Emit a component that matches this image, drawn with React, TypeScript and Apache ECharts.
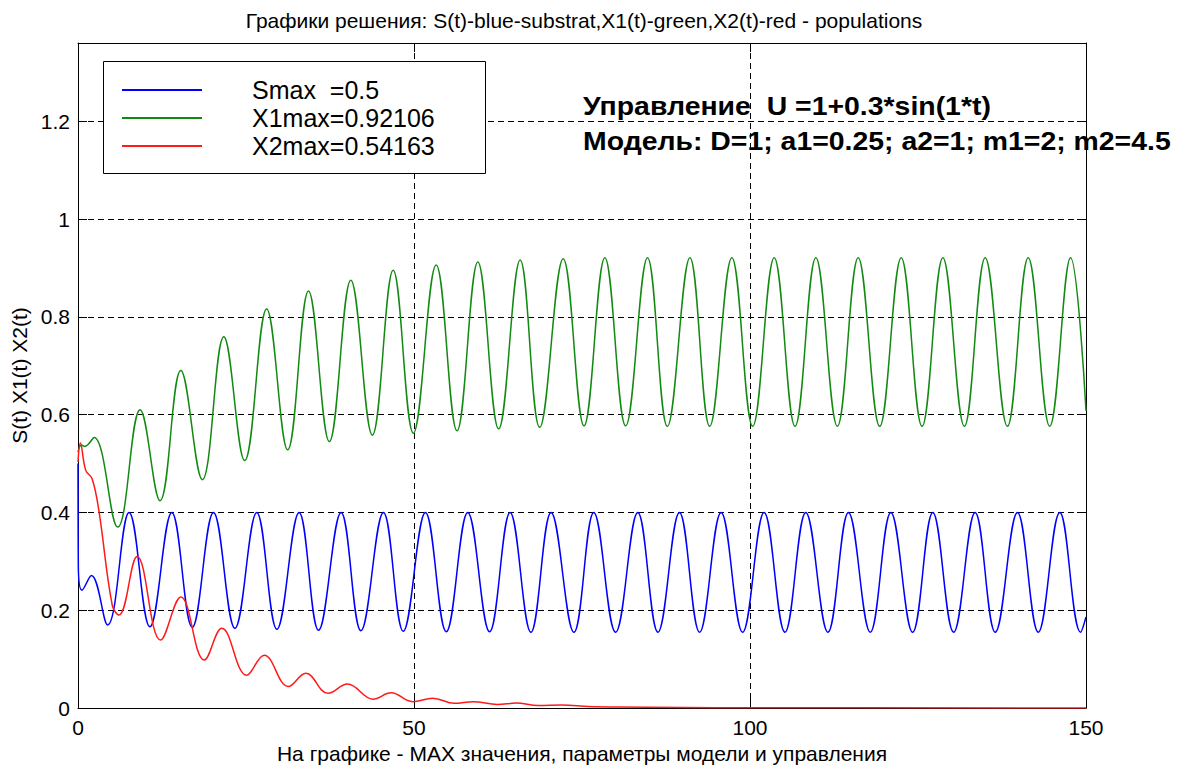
import React, { useEffect, useRef } from "react";
import * as echarts from "echarts";

// ---- data ----
const titleText = "Графики решения: S(t)-blue-substrat,X1(t)-green,X2(t)-red - populations";
const xName = "На графике - MAX значения, параметры модели и управления";
const yName = "S(t) X1(t) X2(t)";
const note1 = "Управление  U =1+0.3*sin(1*t)";
const note2 = "Модель: D=1; a1=0.25; a2=1; m1=2; m2=4.5";
const legendLabels = ["Smax  =0.5", "X1max=0.92106", "X2max=0.54163"];

// S(t) - blue (substrate)
const blueT = [0, 0.05, 0.6, 2.0, 4.4, 7.6, 10.7, 13.96, 17.0, 20.16, 23.35, 26.6, 29.6, 32.9, 35.8, 39.15, 42.1, 45.45, 48.4, 51.7, 54.8, 58.0, 61.25, 64.3, 67.4, 70.4, 73.8, 76.75, 80.0, 83.3, 86.3, 89.5, 92.5, 95.7, 98.9, 102.1, 105.2, 108.3, 111.6, 114.65, 117.9, 120.96, 124.2, 127.2, 130.3, 133.5, 136.5, 139.8, 142.9, 146.1, 149.2, 150];
const blueV = [0.5, 0.29, 0.241, 0.271, 0.170, 0.40, 0.166, 0.40, 0.165, 0.40, 0.163, 0.40, 0.161, 0.40, 0.159, 0.40, 0.158, 0.40, 0.157, 0.40, 0.156, 0.40, 0.156, 0.40, 0.155, 0.40, 0.155, 0.40, 0.155, 0.40, 0.155, 0.40, 0.155, 0.40, 0.155, 0.40, 0.155, 0.40, 0.155, 0.40, 0.155, 0.40, 0.155, 0.40, 0.155, 0.40, 0.155, 0.40, 0.155, 0.40, 0.155, 0.186];

// X1(t) - green
const greenT = [0, 0.5, 1.0, 2.4, 5.9, 9.24, 12.2, 15.3, 18.5, 21.7, 24.8, 28.07, 31.2, 34.3, 37.4, 40.6, 43.8, 46.9, 49.9, 53.3, 56.4, 59.5, 62.6, 65.8, 68.7, 72.2, 75.3, 78.4, 81.5, 84.75, 87.7, 91.06, 94.0, 97.3, 100.4, 103.6, 106.7, 109.8, 113.0, 116.1, 119.3, 122.5, 125.6, 128.7, 131.9, 135.0, 138.3, 141.4, 144.6, 147.7, 150];
const greenV = [0.523, 0.538, 0.535, 0.553, 0.370, 0.610, 0.424, 0.690, 0.467, 0.759, 0.506, 0.816, 0.528, 0.853, 0.545, 0.875, 0.558, 0.895, 0.562, 0.906, 0.567, 0.912, 0.571, 0.916, 0.574, 0.919, 0.577, 0.921, 0.577, 0.921, 0.576, 0.921, 0.576, 0.921, 0.576, 0.921, 0.576, 0.921, 0.576, 0.921, 0.576, 0.921, 0.576, 0.921, 0.576, 0.921, 0.576, 0.921, 0.576, 0.921, 0.608];

// X2(t) - red
const redT = [0, 0.35, 1.15, 2.1, 3.1, 5.1, 6.1, 8.8, 12.3, 15.3, 18.8, 21.4, 25.1, 27.7, 31.3, 33.9, 37.2, 40.1, 43.9, 46.6, 49.8, 52.8, 56.0, 58.8, 62.4, 65.2, 68.5, 72, 76, 80, 90, 100, 150];
const redV = [0.503, 0.542, 0.486, 0.469, 0.404, 0.21, 0.19, 0.310, 0.139, 0.227, 0.098, 0.163, 0.067, 0.108, 0.044, 0.071, 0.030, 0.049, 0.018, 0.031, 0.013, 0.020, 0.0095, 0.013, 0.007, 0.010, 0.005, 0.006, 0.003, 0.002, 0.001, 0.0005, 0];

const zip = (t: number[], v: number[]) => t.map((x, i) => [x, v[i]]);

const FONT = "'Liberation Sans', Arial, sans-serif";
const BLUE = "#0000ff";
const GREEN = "#128a12";
const RED = "#ff1a1a";

export default function App() {
  const ref = useRef<HTMLDivElement>(null);
  useEffect(() => {
    document.body.style.margin = "0";
    const chart = echarts.init(ref.current!, undefined, { renderer: "svg" });
    const axisLine = { show: true, onZero: false, lineStyle: { color: "#000", width: 1 } };
    const tick = { show: true, inside: true, length: 9, lineStyle: { color: "#000" } };
    const split = { show: true, lineStyle: { color: "#000", width: 1, type: [6, 4] } };
    chart.setOption({
      animation: false,
      backgroundColor: "#ffffff",
      textStyle: { fontFamily: FONT },
      title: {
        text: titleText,
        left: 579,
        top: 5,
        textAlign: "center",
        textStyle: { fontSize: 21, fontWeight: "normal", color: "#000", fontFamily: FONT },
      },
      grid: { left: 78, top: 43, width: 1008, height: 665, containLabel: false },
      legend: {
        orient: "vertical",
        left: 103,
        top: 61,
        padding: [15, 0, 0, 19],
        icon: "rect",
        itemWidth: 80,
        itemHeight: 2,
        itemGap: 0,
        z: 6,
        textStyle: { fontSize: 25, lineHeight: 28, color: "#000", fontFamily: FONT, padding: [0, 0, 0, 45] },
        data: legendLabels,
      },
      xAxis: [
        {
          type: "value", min: 0, max: 150, interval: 50, position: "bottom",
          axisLine, axisTick: tick, splitLine: split,
          axisLabel: { color: "#000", fontSize: 21, margin: 9, fontFamily: FONT },
          name: xName, nameLocation: "middle", nameGap: 35,
          nameTextStyle: { fontSize: 21, color: "#000", fontFamily: FONT },
        },
        {
          type: "value", min: 0, max: 150, interval: 50, position: "top",
          axisLine, axisTick: tick, splitLine: { show: false }, axisLabel: { show: false },
        },
      ],
      yAxis: [
        {
          type: "value", min: 0, max: 1.36, interval: 0.2, position: "left",
          axisLine, axisTick: tick, splitLine: split,
          axisLabel: { color: "#000", fontSize: 21, margin: 8, showMaxLabel: false, fontFamily: FONT },
          name: yName, nameLocation: "middle", nameGap: 45, nameRotate: 90,
          nameTextStyle: { fontSize: 21, color: "#000", fontFamily: FONT },
        },
        {
          type: "value", min: 0, max: 1.36, interval: 0.2, position: "right",
          axisLine, axisTick: tick, splitLine: { show: false }, axisLabel: { show: false },
        },
      ],
      graphic: [
        {
          type: "rect", left: 103, top: 61, z: 5,
          shape: { width: 382, height: 112 },
          style: { fill: "#ffffff", stroke: "#000", lineWidth: 1 },
        },
        {
          type: "text", x: 583, y: 94, z: 7, scaleX: 1.137,
          style: { text: note1, fontSize: 25, fontWeight: "bold", fill: "#000", fontFamily: FONT, verticalAlign: "top" },
        },
        {
          type: "text", x: 583, y: 129, z: 7, scaleX: 1.137,
          style: { text: note2, fontSize: 25, fontWeight: "bold", fill: "#000", fontFamily: FONT, verticalAlign: "top" },
        },
      ],
      series: [
        {
          name: legendLabels[0], type: "line", data: zip(blueT, blueV), smooth: 0.4,
          symbol: "none", showSymbol: false, color: BLUE, lineStyle: { color: BLUE, width: 1.5 }, z: 2,
        },
        {
          name: legendLabels[1], type: "line", data: zip(greenT, greenV), smooth: 0.4,
          symbol: "none", showSymbol: false, color: GREEN, lineStyle: { color: GREEN, width: 1.5 }, z: 2,
        },
        {
          name: legendLabels[2], type: "line", data: zip(redT, redV), smooth: 0.4,
          symbol: "none", showSymbol: false, color: RED, lineStyle: { color: RED, width: 1.5 }, z: 2,
        },
      ],
    });
    return () => chart.dispose();
  }, []);
  return <div ref={ref} style={{ position: "absolute", left: 0, top: 0, width: 1190, height: 769 }} />;
}
